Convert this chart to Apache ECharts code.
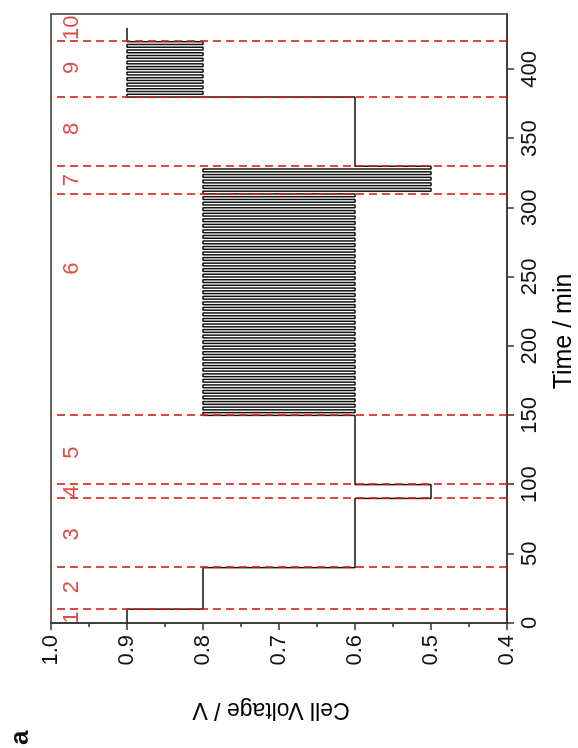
<!DOCTYPE html>
<html>
<head>
<meta charset="utf-8">
<script src="https://cdn.jsdelivr.net/npm/echarts@6/dist/echarts.min.js"></script>
<style>
  html, body { margin: 0; padding: 0; width: 578px; height: 748px; overflow: hidden; background: #fff; }
  #chart { position: absolute; left: 0; top: 0; width: 748px; height: 578px;
           transform-origin: 0 0; transform: translateY(748px) rotate(-90deg); }
</style>
</head>
<body>
<div id="chart"></div>
<script>
// ---- data ----
const timeTicks = [0, 50, 100, 150, 200, 250, 300, 350, 400];
const voltTicks = [0.4, 0.5, 0.6, 0.7, 0.8, 0.9, 1.0];

// phase boundaries (red dashed lines), minutes
const phaseBounds = [10, 40, 90, 100, 150, 310, 330, 380, 420];
// phase number labels and where they sit (minutes)
const phaseNames = ['1', '2', '3', '4', '5', '6', '7', '8', '9', '10'];
const phaseLabelTimes = [4, 26, 64, 95, 123, 256, 320, 357, 401, 430];

// constant steps, phases 1-5 (step start time, voltage)
const phasesA_t = [0, 10, 40, 90, 100];
const phasesA_v = [0.9, 0.8, 0.6, 0.5, 0.6];

// phase 6: cycling 0.8 V / 0.6 V
const phase6_t = [150,152,154,156,158,160,162,164,166,168,
                  170,172,174,176,178,180,182,184,186,188,
                  190,192,194,196,198,200,202,204,206,208,
                  210,212,214,216,218,220,222,224,226,228,
                  230,232,234,236,238,240,242,244,246,248,
                  250,252,254,256,258,260,262,264,266,268,
                  270,272,274,276,278,280,282,284,286,288,
                  290,292,294,296,298,300,302,304,306,308];
const phase6_v = [0.8,0.6,0.8,0.6,0.8,0.6,0.8,0.6,0.8,0.6,
                  0.8,0.6,0.8,0.6,0.8,0.6,0.8,0.6,0.8,0.6,
                  0.8,0.6,0.8,0.6,0.8,0.6,0.8,0.6,0.8,0.6,
                  0.8,0.6,0.8,0.6,0.8,0.6,0.8,0.6,0.8,0.6,
                  0.8,0.6,0.8,0.6,0.8,0.6,0.8,0.6,0.8,0.6,
                  0.8,0.6,0.8,0.6,0.8,0.6,0.8,0.6,0.8,0.6,
                  0.8,0.6,0.8,0.6,0.8,0.6,0.8,0.6,0.8,0.6,
                  0.8,0.6,0.8,0.6,0.8,0.6,0.8,0.6,0.8,0.6];

// phase 7: cycling 0.8 V / 0.5 V
const phase7_t = [310,312,314,316,318,320,322,324,326,328];
const phase7_v = [0.8,0.5,0.8,0.5,0.8,0.5,0.8,0.5,0.8,0.5];

// phase 8: hold
const phase8_t = [330];
const phase8_v = [0.6];

// phase 9: cycling 0.9 V / 0.8 V
const phase9_t = [380,382,384,386,388,390,392,394,396,398,
                  400,402,404,406,408,410,412,414,416,418];
const phase9_v = [0.9,0.8,0.9,0.8,0.9,0.8,0.9,0.8,0.9,0.8,
                  0.9,0.8,0.9,0.8,0.9,0.8,0.9,0.8,0.9,0.8];

// phase 10: hold, end
const phase10_t = [420, 430];
const phase10_v = [0.9, 0.9];

// ---- build ----
const allT = [].concat(phasesA_t, phase6_t, phase7_t, phase8_t, phase9_t, phase10_t);
const allV = [].concat(phasesA_v, phase6_v, phase7_v, phase8_v, phase9_v, phase10_v);
const lineData = allT.map((t, i) => [t, allV[i]]);

const RED = '#d81d12';
const FONT = 'Liberation Sans, Arial, sans-serif';
const labelVolt = 0.972;

const chart = echarts.init(document.getElementById('chart'), null, { renderer: 'canvas' });
chart.setOption({
  animation: false,
  backgroundColor: '#fff',
  textStyle: { fontFamily: FONT },
  grid: { left: 125, right: 14, top: 51, bottom: 71, show: true, containLabel: false,
          outerBoundsMode: 'none',
          borderColor: '#333', borderWidth: 1.5, backgroundColor: 'transparent' },
  xAxis: {
    type: 'value', min: 0, max: 440, interval: 50,
    name: 'Time / min', nameLocation: 'middle', nameGap: 45,
    nameTextStyle: { fontSize: 25, color: '#000', fontFamily: FONT, padding: [0, 26, 0, 0] },
    axisLine: { show: true, lineStyle: { color: '#333', width: 1.5 } },
    axisTick: { show: true, inside: false, length: 7, lineStyle: { color: '#333', width: 1.5 },
                customValues: timeTicks },
    axisLabel: { fontSize: 22, color: '#111', margin: 12, fontFamily: FONT, customValues: timeTicks },
    splitLine: { show: false }
  },
  yAxis: {
    type: 'value', min: 0.4, max: 1.0, interval: 0.1,
    name: 'Cell Voltage / V', nameLocation: 'middle', nameGap: 75,
    nameTextStyle: { fontSize: 23, color: '#000', fontFamily: FONT, padding: [0, 0, 0, 16] },
    axisLine: { show: true, lineStyle: { color: '#333', width: 1.5 } },
    axisTick: { show: true, inside: false, length: 7, lineStyle: { color: '#333', width: 1.5 } },
    minorTick: { show: true, splitNumber: 2, length: 4, lineStyle: { color: '#333', width: 1.5 } },
    axisLabel: { fontSize: 22, color: '#111', margin: 12, fontFamily: FONT,
                 formatter: v => v.toFixed(1) },
    splitLine: { show: false }
  },
  graphic: [{
    type: 'text', left: 3, top: 8,
    style: { text: 'a', font: 'bold 26px ' + FONT, fill: '#111' }
  }],
  series: [
    {
      type: 'line', step: 'end', data: lineData, showSymbol: false, symbol: 'none',
      lineStyle: { color: '#111', width: 1.5 }, z: 2
    },
    {
      type: 'line', data: [], z: 5,
      markLine: {
        silent: true, symbol: ['none', 'none'], label: { show: false },
        lineStyle: { color: RED, width: 1.6, type: [8, 5] },
        data: phaseBounds.map(t => ({ xAxis: t }))
      }
    },
    {
      type: 'scatter', symbolSize: 0, z: 6,
      data: phaseLabelTimes.map((t, i) => ({ value: [t, labelVolt], name: phaseNames[i] })),
      label: { show: true, position: 'inside', formatter: p => p.name,
               color: RED, fontSize: 22, fontFamily: FONT }
    }
  ]
});
</script>
</body>
</html>
